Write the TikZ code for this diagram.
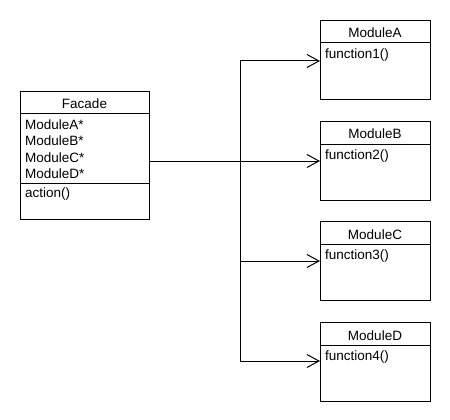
\documentclass[tikz,border=0pt]{standalone}
\usepackage{fontspec}
\setmainfont{Liberation Sans}
\usetikzlibrary{arrows.meta}
\begin{document}
\begin{tikzpicture}[x=1pt,y=-1pt,
  box/.style={draw,line width=1pt,minimum width=#1,inner sep=0pt,anchor=north west},
  modbox/.style={box=110pt,minimum height=79pt},
  txt/.style={inner sep=0pt,font=\fontsize{13.5}{15}\selectfont},
  arr/.style={line width=1pt,-{Straight Barb[length=12pt,width=13pt,line width=1pt]}},
  ln/.style={line width=1pt}]
\useasboundingbox[fill=white] (0,0) rectangle (450,420);
% Facade
\node[box=129pt,minimum height=128pt] (facade) at (20,91) {};
\draw[ln] ([yshift=-22pt]facade.north west) -- ([yshift=-22pt]facade.north east);
\draw[ln] ([yshift=-92pt]facade.north west) -- ([yshift=-92pt]facade.north east);
\node[txt,anchor=base] (ftitle) at (84.5,108) {Facade};
\node[txt,anchor=base west] (fa) at (25,129) {ModuleA*};
\node[txt,anchor=base west] (fb) at (25,145.5) {ModuleB*};
\node[txt,anchor=base west] (fc) at (25,162) {ModuleC*};
\node[txt,anchor=base west] (fd) at (25,178.5) {ModuleD*};
\node[txt,anchor=base west] (fact) at (25,197.5) {action()};
% Modules
\foreach \n/\l/\f/\y in {modA/ModuleA/function1()/0, modB/ModuleB/function2()/101, modC/ModuleC/function3()/201, modD/ModuleD/function4()/302}{
  \node[modbox] (\n) at (320,20+\y) {};
  \draw[ln] ([yshift=-23pt]\n.north west) -- ([yshift=-23pt]\n.north east);
  \node[txt,anchor=base] (\n t) at (375,38+\y) {\l};
  \node[txt,anchor=base west] (\n f) at (325,58.5+\y) {\f};
}
% connectors
\coordinate (jA) at (240,61);
\coordinate (jB) at (240,161);
\coordinate (jC) at (240,261);
\coordinate (jD) at (240,361);
\draw[ln] (jA) -- (jD);
\draw[arr] (facade.east |- jB) -- (jB -| modB.west);
\draw[arr] (jA) -- (jA -| modA.west);
\draw[arr] (jC) -- (jC -| modC.west);
\draw[arr] (jD) -- (jD -| modD.west);
\end{tikzpicture}
\end{document}
